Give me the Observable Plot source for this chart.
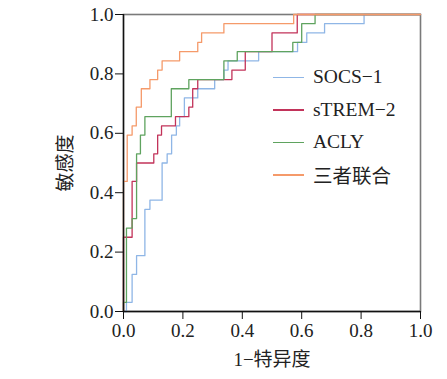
<!DOCTYPE html>
<html>
<head>
<meta charset="utf-8">
<script src="https://cdn.jsdelivr.net/npm/d3@7"></script>
<script src="https://cdn.jsdelivr.net/npm/@observablehq/plot@0.6"></script>
<style>
  html, body { margin: 0; padding: 0; background: #fff; }
  #wrap { position: relative; width: 447px; height: 379px; }
  #legend { position: absolute; left: 273px; top: 61px; font-family: "Liberation Serif", "Noto Sans CJK SC", serif; font-size: 19.5px; color: #222; }
  #legend .row { display: flex; align-items: center; height: 32.5px; }
  #legend .sw { width: 31px; height: 1.5px; margin-right: 9px; }
</style>
</head>
<body>
<div id="wrap"><div id="legend"></div></div>
<script>
// Series names and colours
const seriesNames = ["SOCS−1", "sTREM−2", "ACLY", "三者联合"];
const seriesColors = ["#8fb6e6", "#c2335a", "#5fa35f", "#f59a6a"];

// ROC points (1-specificity, sensitivity) – corners of the step curves
const fprSOCS = [0, 0.010, 0.029, 0.044, 0.072, 0.089, 0.130, 0.147, 0.162, 0.178, 0.189, 0.205, 0.250, 0.307, 0.338, 0.352, 0.455, 0.586, 0.617, 0.677, 0.810, 1];
const tprSOCS = [0, 0.031, 0.125, 0.188, 0.344, 0.375, 0.500, 0.531, 0.594, 0.625, 0.656, 0.719, 0.750, 0.781, 0.813, 0.844, 0.875, 0.906, 0.938, 0.969, 1.000, 1];

const fprSTREM = [0, 0, 0.029, 0.044, 0.102, 0.115, 0.128, 0.175, 0.220, 0.233, 0.250, 0.365, 0.410, 0.500, 0.585, 1];
const tprSTREM = [0, 0.250, 0.438, 0.500, 0.531, 0.594, 0.625, 0.656, 0.688, 0.750, 0.781, 0.813, 0.875, 0.938, 1.000, 1];

const fprACLY = [0, 0, 0.010, 0.029, 0.044, 0.057, 0.072, 0.161, 0.220, 0.338, 0.383, 0.570, 0.600, 0.645, 1];
const tprACLY = [0, 0.031, 0.281, 0.313, 0.531, 0.594, 0.656, 0.750, 0.781, 0.844, 0.875, 0.906, 0.969, 1.000, 1];

const fprCombo = [0, 0, 0.0125, 0.029, 0.043, 0.060, 0.089, 0.115, 0.130, 0.189, 0.250, 0.263, 0.338, 0.573, 1];
const tprCombo = [0, 0.438, 0.594, 0.625, 0.688, 0.750, 0.781, 0.813, 0.844, 0.875, 0.906, 0.938, 0.969, 1.000, 1];

const axisTicks = [0, 0.2, 0.4, 0.6, 0.8, 1.0];
const xLabel = "1−特异度";
const yLabel = "敏感度";

const seriesFpr = [fprSOCS, fprSTREM, fprACLY, fprCombo];
const seriesTpr = [tprSOCS, tprSTREM, tprACLY, tprCombo];
const rows = [];
seriesNames.forEach((name, i) => {
  seriesFpr[i].forEach((f, j) => rows.push({series: name, fpr: f, tpr: seriesTpr[i][j]}));
});

const fmt = d3.format(".1f");
const chart = Plot.plot({
  width: 447,
  height: 379,
  marginLeft: 123,
  marginRight: 27,
  marginTop: 14,
  marginBottom: 68,
  style: {fontFamily: "'Liberation Serif', 'Noto Sans CJK SC', serif", fontSize: "19px", color: "#222", background: "#fff"},
  x: {domain: [0, 1]},
  y: {domain: [0, 1]},
  color: {domain: seriesNames, range: seriesColors},
  marks: [
    Plot.frame({stroke: "#7a7a7a", strokeWidth: 1.6}),
    Plot.line(rows, {x: "fpr", y: "tpr", z: "series", stroke: "series", curve: "step-after", strokeWidth: 1.3}),
    Plot.ruleX([0], {stroke: "#111", strokeWidth: 1.4}),
    Plot.ruleY([0], {stroke: "#111", strokeWidth: 1.4}),
    Plot.axisX({ticks: axisTicks, tickFormat: fmt, tickSize: 8, tickPadding: 4, stroke: "#111", label: xLabel, labelAnchor: "center", labelArrow: "none", labelOffset: 54, fontSize: 19}),
    Plot.axisY({ticks: axisTicks, tickFormat: fmt, tickSize: 8, tickPadding: 2, stroke: "#111", label: yLabel, labelAnchor: "center", labelArrow: "none", labelOffset: 65, fontSize: 19})
  ]
});
document.getElementById("wrap").prepend(chart);

const legend = document.getElementById("legend");
seriesNames.forEach((name, i) => {
  const row = document.createElement("div");
  row.className = "row";
  const sw = document.createElement("div");
  sw.className = "sw";
  sw.style.background = seriesColors[i];
  const t = document.createElement("span");
  t.textContent = name;
  row.append(sw, t);
  legend.append(row);
});
</script>
</body>
</html>
